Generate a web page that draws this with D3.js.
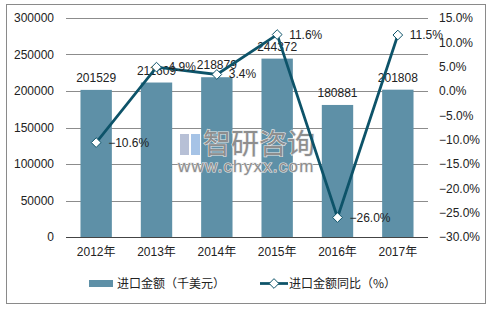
<!DOCTYPE html>
<html>
<head>
<meta charset="utf-8">
<script src="https://cdn.jsdelivr.net/npm/d3@7"></script>
<style>
  body { margin: 0; background: #fff; }
  svg text { font-family: "Liberation Sans", Arial, "Noto Sans CJK SC", sans-serif; }
</style>
</head>
<body>
<svg id="chart" width="493" height="310"></svg>
<script>
const years = ['2012年', '2013年', '2014年', '2015年', '2016年', '2017年']
const amounts = [201529, 211609, 218879, 244372, 180881, 201808]
const growth = [-10.6, 4.9, 3.4, 11.6, -26.0, 11.5]
const leftTicks = [0, 50000, 100000, 150000, 200000, 250000, 300000]
const rightTicks = [-30, -25, -20, -15, -10, -5, 0, 5, 10, 15]

const barColor = '#5e90a7'
const lineColor = '#0d5369'
const textColor = '#222'

const svg = d3.select('#chart')
const plot = {left: 66, right: 428, top: 18, bottom: 237}

// outer frame
svg.append('rect')
  .attr('x', 6.5).attr('y', 4.5)
  .attr('width', 479).attr('height', 299)
  .attr('fill', 'none')
  .attr('stroke', '#8a8a8a')

const x = d3.scaleBand().domain(years).range([plot.left, plot.right]).paddingInner(0.48).paddingOuter(0.24)
const yL = d3.scaleLinear().domain([0, 300000]).range([plot.bottom, plot.top])
const yR = d3.scaleLinear().domain([-30, 15]).range([plot.bottom, plot.top])

// gridlines
svg.append('g')
  .selectAll('line')
  .data(leftTicks.slice(1))
  .join('line')
  .attr('x1', plot.left).attr('x2', plot.right)
  .attr('y1', (d) => Math.round(yL(d)) + 0.5)
  .attr('y2', (d) => Math.round(yL(d)) + 0.5)
  .attr('stroke', '#8c8c8c')

// left axis
const axL = svg.append('g')
  .attr('transform', `translate(${plot.left}, 0)`)
  .call(d3.axisLeft(yL).tickValues(leftTicks).tickSize(0).tickPadding(12).tickFormat(d3.format('d')))
axL.select('.domain').remove()
axL.selectAll('text').attr('font-size', 12).attr('fill', textColor)

// right axis
const axR = svg.append('g')
  .attr('transform', `translate(${plot.right}, 0)`)
  .call(d3.axisRight(yR).tickValues(rightTicks).tickSize(0).tickPadding(11).tickFormat((d) => d3.format('.1f')(d) + '%'))
axR.select('.domain').remove()
axR.selectAll('text').attr('font-size', 12).attr('fill', textColor)

// bars
svg.append('g')
  .selectAll('rect')
  .data(amounts)
  .join('rect')
  .attr('x', (d, i) => x(years[i]))
  .attr('y', (d) => yL(d))
  .attr('width', x.bandwidth())
  .attr('height', (d) => plot.bottom - yL(d))
  .attr('fill', barColor)

// watermark (sits over the bars, under the line)
const wm = svg.append('g')
wm.append('rect').attr('x', 180).attr('y', 134).attr('width', 9).attr('height', 21).attr('fill', '#b7c0d6')
wm.append('rect').attr('x', 191).attr('y', 134).attr('width', 9).attr('height', 21).attr('fill', '#a6c3e6')
wm.append('text').attr('x', 203).attr('y', 154).attr('font-size', 28)
  .attr('fill', '#8e8e8e').attr('stroke', '#e8e8e8').attr('stroke-width', 1.2).attr('paint-order', 'stroke')
  .style('font-family', '"Noto Sans CJK SC", sans-serif').text('智研咨询')
wm.append('text').attr('x', 178).attr('y', 172).attr('font-size', 17).attr('letter-spacing', 1.2)
  .attr('fill', '#8e8e8e').attr('stroke', '#e8e8e8').attr('stroke-width', 1.2).attr('paint-order', 'stroke')
  .text('www.chyxx.com')

// x axis
const axX = svg.append('g')
  .attr('transform', `translate(0, ${plot.bottom + 0.5})`)
  .call(d3.axisBottom(x).tickSize(0).tickPadding(10))
axX.select('.domain').attr('d', `M${plot.left},0H${plot.right}`).attr('stroke', '#444')
axX.selectAll('text').attr('font-size', 12).attr('fill', textColor)

// bar labels
svg.append('g')
  .selectAll('text')
  .data(amounts)
  .join('text')
  .attr('x', (d, i) => x(years[i]) + x.bandwidth() / 2)
  .attr('y', (d) => yL(d) - 8)
  .attr('text-anchor', 'middle')
  .attr('font-size', 12)
  .attr('fill', textColor)
  .text((d) => d)

// growth line
const cx = (i) => x(years[i]) + x.bandwidth() / 2
svg.append('path')
  .datum(growth)
  .attr('d', d3.line().x((d, i) => cx(i)).y((d) => yR(d)))
  .attr('fill', 'none')
  .attr('stroke', lineColor)
  .attr('stroke-width', 2.75)

const diamond = d3.symbol().type(d3.symbolDiamond2).size(60)
svg.append('g')
  .selectAll('path')
  .data(growth)
  .join('path')
  .attr('transform', (d, i) => `translate(${cx(i)}, ${yR(d)})`)
  .attr('d', diamond)
  .attr('fill', '#fff')
  .attr('stroke', lineColor)
  .attr('stroke-width', 1)

svg.append('g')
  .selectAll('text')
  .data(growth)
  .join('text')
  .attr('x', (d, i) => cx(i) + 12)
  .attr('y', (d) => yR(d) + 4)
  .attr('font-size', 12)
  .attr('fill', textColor)
  .text((d) => d3.format('.1f')(d) + '%')

// legend
const lg = svg.append('g').attr('font-size', 12).attr('fill', textColor)
lg.append('rect').attr('x', 89).attr('y', 280).attr('width', 24).attr('height', 7).attr('fill', barColor)
lg.append('text').attr('x', 117).attr('y', 288).text('进口金额（千美元）')
  .style('font-family', '"Noto Sans CJK SC", sans-serif')
lg.append('line').attr('x1', 260).attr('x2', 288).attr('y1', 283.5).attr('y2', 283.5)
  .attr('stroke', lineColor).attr('stroke-width', 2.75)
lg.append('path').attr('transform', 'translate(274, 283.5)').attr('d', diamond)
  .attr('fill', '#fff').attr('stroke', lineColor)
lg.append('text').attr('x', 289).attr('y', 288).text('进口金额同比（%）')
  .style('font-family', '"Noto Sans CJK SC", sans-serif')
</script>
</body>
</html>
